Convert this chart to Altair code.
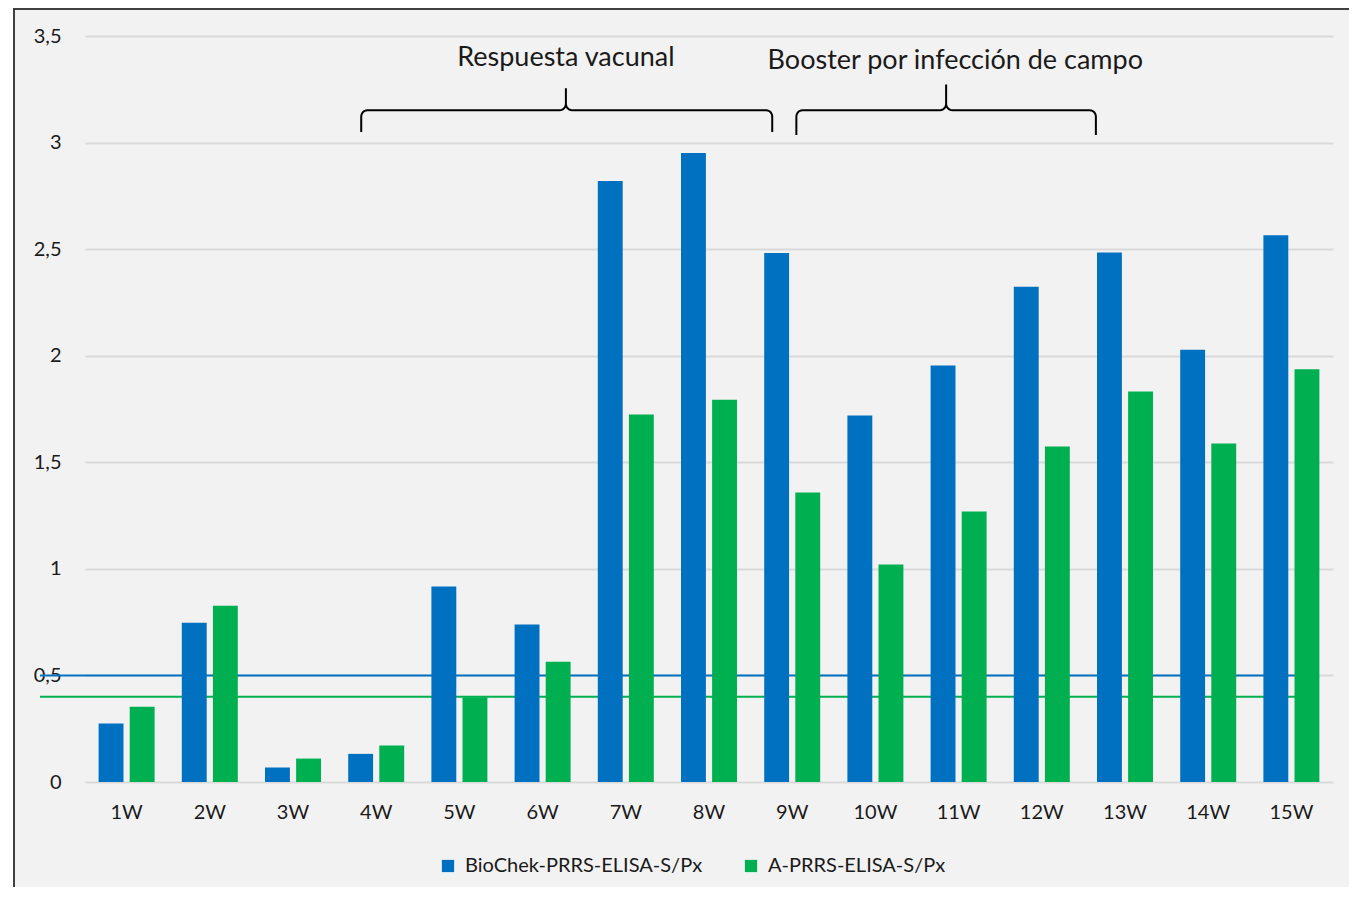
import altair as alt
import numpy as np
import pandas as pd

weeks = ["1W", "2W", "3W", "4W", "5W", "6W", "7W", "8W", "9W", "10W", "11W", "12W", "13W", "14W", "15W"]
biochek = [0.275, 0.747, 0.068, 0.132, 0.917, 0.739, 2.820, 2.951, 2.482, 1.719, 1.954, 2.324, 2.484, 2.028, 2.565]
aprrs = [0.353, 0.827, 0.110, 0.171, 0.398, 0.564, 1.724, 1.793, 1.358, 1.020, 1.269, 1.574, 1.832, 1.588, 1.936]
series_names = ["BioChek-PRRS-ELISA-S/Px", "A-PRRS-ELISA-S/Px"]
series_colors = ["#0070C0", "#00B050"]
cutoffs = [0.5, 0.4]
y_ticks = [0, 0.5, 1, 1.5, 2, 2.5, 3, 3.5]

annot_labels = ["Respuesta vacunal", "Booster por infección de campo"]
annot_x = [5.78, 10.46]
annot_y = [3.395, 3.385]
brace_left = [3.32, 8.55]
brace_right = [8.26, 12.15]
brace_mid = [5.78, 10.35]
brace_bottom = [3.05, 3.035]
brace_flat = [3.152, 3.152]
brace_tip = [3.255, 3.272]

FONT = "Lato"
W, H = 1248, 746
YDOM = [0, 3.5]

df = pd.DataFrame({
    "Week": weeks * 2,
    "Series": [series_names[0]] * len(weeks) + [series_names[1]] * len(weeks),
    "Value": biochek + aprrs,
})

# brace outline points (decoration)
rx, ry = 0.075, 0.03
rows = []
for b in range(2):
    xl, xr, xm = brace_left[b], brace_right[b], brace_mid[b]
    yb, yf, yt = brace_bottom[b], brace_flat[b], brace_tip[b]
    pts = [(xl, yb)]
    for a in np.linspace(np.pi, np.pi / 2, 7):
        pts.append((xl + rx + rx * np.cos(a), yf - ry + ry * np.sin(a)))
    for a in np.linspace(-np.pi / 2, 0, 7):
        pts.append((xm - rx + rx * np.cos(a), yf + ry + ry * np.sin(a)))
    pts.append((xm, yt))
    for a in np.linspace(np.pi, 3 * np.pi / 2, 7):
        pts.append((xm + rx + rx * np.cos(a), yf + ry + ry * np.sin(a)))
    for a in np.linspace(np.pi / 2, 0, 7):
        pts.append((xr - rx + rx * np.cos(a), yf - ry + ry * np.sin(a)))
    pts.append((xr, yb))
    for i, (px, py) in enumerate(pts):
        rows.append({"brace": b, "ord": i, "bx": px, "by": py})
brace_df = pd.DataFrame(rows)

annot_df = pd.DataFrame({"label": annot_labels, "ax": annot_x, "ay": annot_y})

one = pd.DataFrame({"k": [0]})

y_scale = alt.Scale(domain=YDOM, nice=False)
y_axis = alt.Axis(values=y_ticks, domain=False, ticks=False,
                  gridColor="#d9d9d9", gridWidth=2,
                  labelExpr="replace(toString(datum.value), '.', ',')",
                  labelFontSize=20, labelPadding=24, labelColor="#1a1a1a",
                  labelFont=FONT)

white_strip = alt.Chart(one).mark_rect(color="white").encode(
    x=alt.value(-77), x2=alt.value(-72), y=alt.value(-28), y2=alt.value(860)
)
border_left = alt.Chart(one).mark_rule(color="#404040", strokeWidth=2).encode(
    x=alt.value(-71), y=alt.value(-28), y2=alt.value(860)
)
border_top = alt.Chart(one).mark_rule(color="#404040", strokeWidth=2).encode(
    x=alt.value(-71), x2=alt.value(1280), y=alt.value(-27)
)

cut_blue = alt.Chart(pd.DataFrame({"v": [cutoffs[0]]})).mark_rule(
    color=series_colors[0], strokeWidth=2
).encode(
    y=alt.Y("v:Q", scale=y_scale, axis=y_axis, title=None),
    x=alt.value(-45), x2=alt.value(1213),
)
cut_green = alt.Chart(pd.DataFrame({"v": [cutoffs[1]]})).mark_rule(
    color=series_colors[1], strokeWidth=2
).encode(
    y=alt.Y("v:Q", scale=y_scale, axis=y_axis, title=None),
    x=alt.value(-45), x2=alt.value(1210),
)

bars = alt.Chart(df).mark_bar().encode(
    x=alt.X(
        "Week:N", sort=weeks, title=None,
        scale=alt.Scale(paddingInner=0.327, paddingOuter=0.1635),
        axis=alt.Axis(labelAngle=0, domain=False, ticks=False, grid=False,
                      labelFontSize=20, labelPadding=20, labelColor="#1a1a1a",
                      labelFont=FONT),
    ),
    xOffset=alt.XOffset("Series:N", sort=series_names,
                        scale=alt.Scale(paddingInner=0.2, paddingOuter=0)),
    y=alt.Y("Value:Q", title=None, scale=y_scale, axis=y_axis),
    color=alt.Color(
        "Series:N", sort=series_names,
        scale=alt.Scale(domain=series_names, range=series_colors),
        legend=alt.Legend(
            title=None, orient="none", direction="horizontal",
            legendX=353, legendY=820, symbolType="square", symbolSize=150,
            symbolStrokeWidth=0, labelFontSize=20, labelFont=FONT,
            labelColor="#1a1a1a", columnPadding=38, labelOffset=7,
            labelLimit=500,
        ),
    ),
)

braces = alt.Chart(brace_df).mark_line(color="black", strokeWidth=2).encode(
    x=alt.X("bx:Q", scale=alt.Scale(domain=[0, 15], nice=False, zero=False), axis=None),
    y=alt.Y("by:Q", scale=y_scale, axis=y_axis, title=None),
    detail="brace:N",
    order="ord:Q",
)

annots = alt.Chart(annot_df).mark_text(
    font=FONT, fontSize=27, color="#1a1a1a", baseline="middle", align="center"
).encode(
    x=alt.X("ax:Q", scale=alt.Scale(domain=[0, 15], nice=False, zero=False), axis=None),
    y=alt.Y("ay:Q", scale=y_scale, axis=y_axis, title=None),
    text="label:N",
)

chart = alt.layer(
    white_strip, border_left, border_top, cut_blue, cut_green, bars, braces, annots
).resolve_scale(x="independent").properties(
    width=W, height=H,
    autosize=alt.AutoSizeParams(type="none"),
    padding={"left": 77, "top": 28, "right": 16, "bottom": 105},
    background="#f2f2f2",
).configure_view(stroke=None)

chart.save("out.html", embed_options={"renderer": "svg", "actions": False})
